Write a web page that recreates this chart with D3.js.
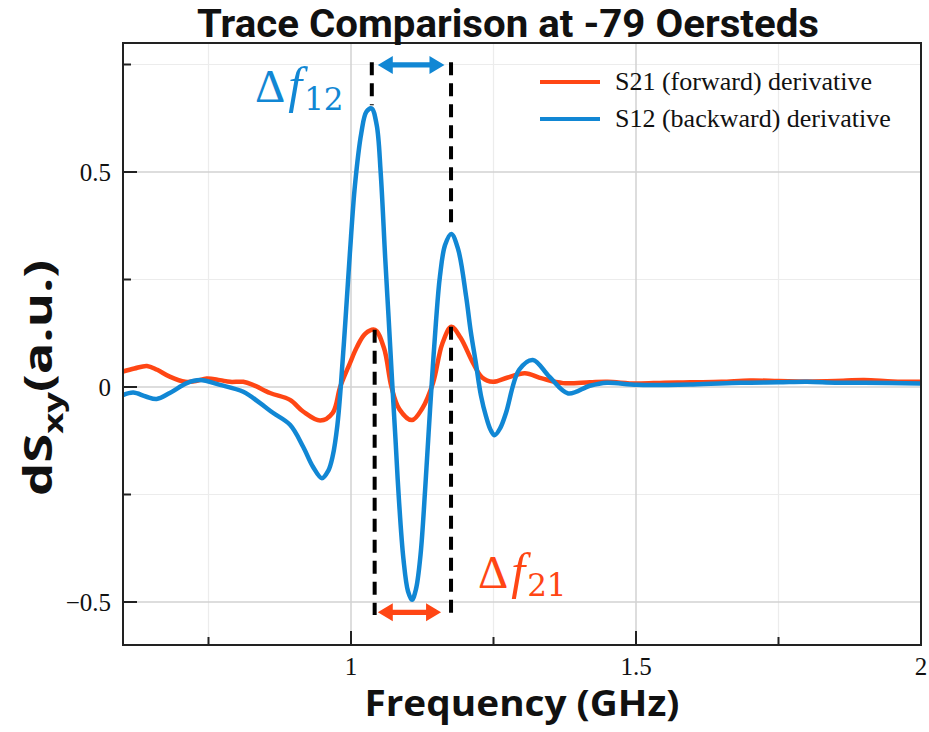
<!DOCTYPE html>
<html lang="en">
<head>
<meta charset="UTF-8">
<script src="https://d3js.org/d3.v7.min.js"></script>
<title>Trace Comparison</title>
<style>
body { margin: 0; background: #fff; }
svg text { fill: #111; }
</style>
</head>
<body>
<svg id="chart" width="929" height="732"></svg>
<script>
// ---- data ----
const freqS21 = [0.600, 0.620, 0.642, 0.660, 0.682, 0.709, 0.728, 0.747, 0.770, 0.788, 0.811, 0.828, 0.858, 0.893, 0.916, 0.946, 0.968, 0.981, 0.998, 1.010, 1.025, 1.042, 1.058, 1.071, 1.085, 1.107, 1.125, 1.144, 1.160, 1.176, 1.192, 1.214, 1.230, 1.249, 1.275, 1.305, 1.335, 1.372, 1.419, 1.450, 1.500, 1.550, 1.600, 1.650, 1.700, 1.750, 1.800, 1.850, 1.900, 1.950, 2.000]
const valS21  = [0.036, 0.043, 0.049, 0.040, 0.024, 0.012, 0.014, 0.020, 0.016, 0.012, 0.012, 0.005, -0.014, -0.030, -0.057, -0.078, -0.060, 0.000, 0.055, 0.092, 0.124, 0.133, 0.090, 0.000, -0.052, -0.077, -0.050, 0.010, 0.100, 0.140, 0.115, 0.056, 0.022, 0.012, 0.022, 0.032, 0.020, 0.009, 0.011, 0.012, 0.008, 0.010, 0.011, 0.012, 0.015, 0.014, 0.013, 0.014, 0.016, 0.013, 0.012]

const freqS12 = [0.600, 0.618, 0.640, 0.659, 0.682, 0.712, 0.735, 0.770, 0.811, 0.840, 0.863, 0.893, 0.916, 0.933, 0.949, 0.960, 0.968, 0.976, 0.982, 0.990, 0.998, 1.007, 1.018, 1.027, 1.036, 1.045, 1.052, 1.060, 1.066, 1.072, 1.078, 1.084, 1.092, 1.100, 1.107, 1.114, 1.122, 1.130, 1.136, 1.142, 1.149, 1.156, 1.165, 1.176, 1.188, 1.202, 1.210, 1.219, 1.228, 1.237, 1.245, 1.252, 1.262, 1.272, 1.295, 1.319, 1.348, 1.381, 1.419, 1.449, 1.502, 1.600, 1.684, 1.750, 1.800, 1.850, 1.900, 2.000]
const valS12  = [-0.019, -0.013, -0.022, -0.028, -0.014, 0.009, 0.016, 0.005, -0.011, -0.037, -0.060, -0.088, -0.139, -0.185, -0.212, -0.195, -0.160, -0.090, 0.000, 0.150, 0.310, 0.470, 0.590, 0.640, 0.648, 0.610, 0.500, 0.300, 0.160, 0.016, -0.120, -0.260, -0.400, -0.475, -0.495, -0.470, -0.390, -0.240, -0.110, 0.016, 0.150, 0.257, 0.330, 0.356, 0.320, 0.210, 0.130, 0.056, -0.020, -0.069, -0.100, -0.112, -0.095, -0.060, 0.040, 0.063, 0.024, -0.015, 0.003, 0.010, 0.005, 0.006, 0.010, 0.011, 0.012, 0.010, 0.010, 0.008]

const xMajor = [1, 1.5, 2]
const xMinor = [0.75, 1.25, 1.75]
const yMajor = [-0.5, 0, 0.5]
const yMinor = [-0.25, 0.25, 0.75]
const legendLabels = ["S21 (forward) derivative", "S12 (backward) derivative"]

// annotation positions in data units
const dashUpper = [[1.0365, 0.755, 0.655], [1.1755, 0.755, 0.365]]
const dashLower = [[1.0415, 0.133, -0.530], [1.1755, 0.140, -0.530]]
const arrowTop = [1.047, 1.164, 0.749]
const arrowBottom = [1.047, 1.158, -0.524]

const orange = "#ff4614", blue = "#1187d4"

const svg = d3.select("#chart")
const margin = {top: 43, right: 8, bottom: 87, left: 123}
const W = 929 - margin.left - margin.right
const H = 732 - margin.top - margin.bottom

const x = d3.scaleLinear().domain([0.6, 2]).range([0, W])
const y = d3.scaleLinear().domain([-0.6, 0.8]).range([H, 0])

const g = svg.append("g").attr("transform", `translate(${margin.left},${margin.top})`)

// grid
g.append("g").selectAll("line").data(xMinor).join("line")
    .attr("x1", d => x(d)).attr("x2", d => x(d)).attr("y1", 0).attr("y2", H)
    .attr("stroke", "#ececec").attr("stroke-width", 1.2)
g.append("g").selectAll("line").data(yMinor).join("line")
    .attr("y1", d => y(d)).attr("y2", d => y(d)).attr("x1", 0).attr("x2", W)
    .attr("stroke", "#ececec").attr("stroke-width", 1.2)
g.append("g").selectAll("line").data(xMajor).join("line")
    .attr("x1", d => x(d)).attr("x2", d => x(d)).attr("y1", 0).attr("y2", H)
    .attr("stroke", "#d2d2d2").attr("stroke-width", 1.5)
g.append("g").selectAll("line").data(yMajor).join("line")
    .attr("y1", d => y(d)).attr("y2", d => y(d)).attr("x1", 0).attr("x2", W)
    .attr("stroke", "#d2d2d2").attr("stroke-width", 1.5)

// curves
const line = d3.line()
    .x(d => x(d[0])).y(d => y(d[1]))
    .curve(d3.curveCatmullRom.alpha(0.5))

g.append("path")
    .datum(d3.zip(freqS21, valS21))
    .attr("d", line).attr("fill", "none")
    .attr("stroke", orange).attr("stroke-width", 4.5)
g.append("path")
    .datum(d3.zip(freqS12, valS12))
    .attr("d", line).attr("fill", "none")
    .attr("stroke", blue).attr("stroke-width", 4.5)

// dashed guides
g.append("g").selectAll("line").data(dashUpper.concat(dashLower)).join("line")
    .attr("x1", d => x(d[0])).attr("x2", d => x(d[0]))
    .attr("y1", d => y(d[1])).attr("y2", d => y(d[2]))
    .attr("stroke", "#000").attr("stroke-width", 4)
    .attr("stroke-dasharray", "13,8")

function doubleArrow(a, color) {
    const x0 = x(a[0]), x1 = x(a[1]), yy = y(a[2])
    const hl = 15, hw = 9, sw = 2.6
    const p = [
        [x0, yy], [x0 + hl, yy - hw], [x0 + hl, yy - sw], [x1 - hl, yy - sw],
        [x1 - hl, yy - hw], [x1, yy], [x1 - hl, yy + hw], [x1 - hl, yy + sw],
        [x0 + hl, yy + sw], [x0 + hl, yy + hw]
    ]
    g.append("path").attr("d", "M" + p.join("L") + "Z").attr("fill", color)
}
doubleArrow(arrowTop, blue)
doubleArrow(arrowBottom, orange)

// delta labels
function deltaLabel(px, py, sub, color) {
    const t = g.append("text").attr("x", px).attr("y", py)
        .style("font-family", "'Liberation Serif', serif").style("fill", color)
    t.append("tspan").text("Δ").style("font-size", "47px")
    t.append("tspan").text("f").style("font-size", "50px").style("font-style", "italic").attr("dx", 3)
    t.append("tspan").text(sub).style("font-size", "31px").attr("dy", 8).attr("dx", 2)
        .style("font-family", "'DejaVu Serif', serif")
}
deltaLabel(255 - margin.left, 102 - margin.top, "12", blue)
deltaLabel(478 - margin.left, 588 - margin.top, "21", orange)

// frame
g.append("rect").attr("width", W).attr("height", H)
    .attr("fill", "none").attr("stroke", "#222").attr("stroke-width", 2)

// ticks (inward)
const tickFont = "'Liberation Serif', 'Times New Roman', serif"
g.append("g").selectAll("line").data(yMajor).join("line")
    .attr("x1", 0).attr("x2", 14).attr("y1", d => y(d)).attr("y2", d => y(d))
    .attr("stroke", "#222").attr("stroke-width", 2)
g.append("g").selectAll("line").data(yMinor).join("line")
    .attr("x1", 0).attr("x2", 8).attr("y1", d => y(d)).attr("y2", d => y(d))
    .attr("stroke", "#222").attr("stroke-width", 2)
g.append("g").selectAll("line").data(xMajor).join("line")
    .attr("y1", H).attr("y2", H - 14).attr("x1", d => x(d)).attr("x2", d => x(d))
    .attr("stroke", "#222").attr("stroke-width", 2)
g.append("g").selectAll("line").data(xMinor).join("line")
    .attr("y1", H).attr("y2", H - 8).attr("x1", d => x(d)).attr("x2", d => x(d))
    .attr("stroke", "#222").attr("stroke-width", 2)

g.append("g").selectAll("text").data(yMajor).join("text")
    .attr("x", -12).attr("y", d => y(d)).attr("dy", "0.35em")
    .attr("text-anchor", "end")
    .style("font-family", tickFont).style("font-size", "25px")
    .text(d => d < 0 ? "\u2212" + Math.abs(d) : d)
g.append("g").selectAll("text").data(xMajor).join("text")
    .attr("x", d => x(d)).attr("y", H + 30)
    .attr("text-anchor", "middle")
    .style("font-family", tickFont).style("font-size", "25px")
    .text(d => d)

// legend
const leg = g.append("g").attr("transform", `translate(${540 - margin.left},${82 - margin.top})`)
legendLabels.forEach((lab, i) => {
    leg.append("line").attr("x1", 0).attr("x2", 60).attr("y1", i * 37).attr("y2", i * 37)
        .attr("stroke", i == 0 ? orange : blue).attr("stroke-width", 4)
    leg.append("text").attr("x", 75).attr("y", i * 37 + 8)
        .style("font-family", tickFont).style("font-size", "26px")
        .text(lab)
})

// title and axis labels
const boldFont = "'Open Sans', 'Noto Sans', sans-serif"
svg.append("text").attr("x", 508).attr("y", 37)
    .attr("text-anchor", "middle")
    .attr("textLength", 622).attr("lengthAdjust", "spacingAndGlyphs")
    .style("font-family", "Roboto, sans-serif").style("font-weight", "bold").style("font-size", "39px")
    .text("Trace Comparison at -79 Oersteds")

svg.append("text").attr("x", margin.left + W / 2).attr("y", 716)
    .attr("text-anchor", "middle")
    .attr("textLength", 315).attr("lengthAdjust", "spacingAndGlyphs")
    .style("font-family", boldFont).style("font-weight", "bold").style("font-size", "36px")
    .text("Frequency (GHz)")

const yl = svg.append("text")
    .attr("transform", "translate(52,378) rotate(-90)")
    .attr("text-anchor", "middle")
    .attr("textLength", 236).attr("lengthAdjust", "spacingAndGlyphs")
    .style("font-family", boldFont).style("font-weight", "bold").style("font-size", "39px")
yl.append("tspan").text("dS")
yl.append("tspan").text("xy").style("font-size", "27px").attr("dy", 11)
yl.append("tspan").text("(a.u.)").attr("dy", -11)
</script>
</body>
</html>
